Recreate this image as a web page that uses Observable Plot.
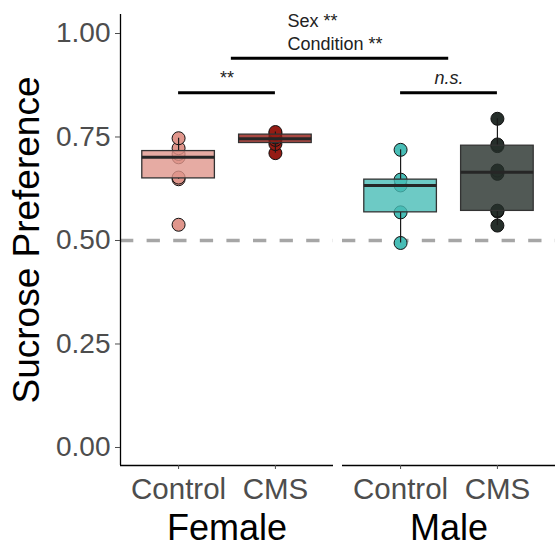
<!DOCTYPE html>
<html>
<head>
<meta charset="utf-8">
<script src="https://cdn.jsdelivr.net/npm/d3@7"></script>
<script src="https://cdn.jsdelivr.net/npm/@observablehq/plot@0.6"></script>
<style>
  body { margin: 0; background: #fff; }
  svg { font-family: "Liberation Sans", Arial, Helvetica, sans-serif; }
</style>
</head>
<body>
<div id="chart"></div>
<script>
// Sucrose preference per animal, by sex and condition
const sexes = ["Female", "Male"];
const conditions = ["Control", "CMS"];
const femaleControl = [0.538, 0.648, 0.652, 0.701, 0.709, 0.723, 0.747];
const femaleCMS = [0.711, 0.733, 0.743, 0.749, 0.758, 0.762];
const maleControl = [0.494, 0.568, 0.633, 0.647, 0.719];
const maleCMS = [0.536, 0.570, 0.572, 0.661, 0.669, 0.728, 0.732, 0.794];
const groupColors = ["#E0968C", "#951C14", "#48BDB6", "#262F2B"];
const yTicks = [0, 0.25, 0.5, 0.75, 1];
const chanceLevel = 0.5;

// significance annotations
const pairLabels = ["**", "n.s."];
const pairBracketY = 0.857;
const pairLabelY = 0.877;
const mainEffectLabels = ["Sex **", "Condition **"];
const mainEffectLabelY = [1.015, 0.959];
const mainEffectLabelX = 2.125;
const mainBracketY = 0.940;
const mainBracketX = [1.545, 3.79];

// layout of the two sex panels on one shared x scale
const panelWidth = 2.2;      // categories 1 and 2 with 0.6 expansion each side
const panelGap = 0.093;
const panelStep = panelWidth + panelGap;
const boxWidth = 0.75;
const yDomain = [-0.0435, 1.0459];

const valuesBySex = [[femaleControl, femaleCMS], [maleControl, maleCMS]];
const panels = sexes.map((sex, s) => ({
  sex,
  x1: 0.4 + s * panelStep,
  x2: 0.4 + panelWidth + s * panelStep,
  center: 1.5 + s * panelStep,
  pairLabel: pairLabels[s]
}));

const groups = sexes.flatMap((sex, s) => conditions.map((cond, c) => {
  const values = valuesBySex[s][c].slice().sort(d3.ascending);
  const q1 = d3.quantile(values, 0.25);
  const median = d3.quantile(values, 0.5);
  const q3 = d3.quantile(values, 0.75);
  const iqr = q3 - q1;
  const lo = d3.min(values.filter(v => v >= q1 - 1.5 * iqr));
  const hi = d3.max(values.filter(v => v <= q3 + 1.5 * iqr));
  return {sex, cond, x: 1 + c + s * panelStep, values, q1, median, q3, lo, hi,
          color: groupColors[s * conditions.length + c]};
}));

const points = groups.flatMap(g => g.values.map(v => ({x: g.x, y: v, color: g.color})));
const xTicks = groups.map(g => g.x);
const xTickLabel = new Map(groups.map(g => [g.x, g.cond]));

const chart = Plot.plot({
  width: 555,
  height: 549,
  marginTop: 14,
  marginBottom: 84,
  marginLeft: 120,
  marginRight: 0,
  x: {domain: [0.4, 0.4 + panelWidth + panelStep]},
  y: {domain: yDomain},
  color: {type: "identity"},
  marks: [
    // chance level
    Plot.ruleY(panels, {x1: "x1", x2: "x2", y: () => chanceLevel,
      stroke: "#A6A6A6", strokeWidth: 3.5, strokeDasharray: "13.3,13.3"}),
    // individual animals
    Plot.dot(points, {x: "x", y: "y", r: 6.5, fill: "color", stroke: "#111", strokeWidth: 1}),
    // whiskers
    Plot.ruleX(groups, {x: "x", y1: "lo", y2: "q1", stroke: "#1a1a1a", strokeWidth: 1.2}),
    Plot.ruleX(groups, {x: "x", y1: "q3", y2: "hi", stroke: "#1a1a1a", strokeWidth: 1.2}),
    // boxes
    Plot.rect(groups, {x1: d => d.x - boxWidth / 2, x2: d => d.x + boxWidth / 2, y1: "q1", y2: "q3",
      fill: "color", fillOpacity: 0.8, stroke: "#333", strokeWidth: 1.3}),
    Plot.ruleY(groups, {x1: d => d.x - boxWidth / 2, x2: d => d.x + boxWidth / 2, y: "median",
      stroke: "#262626", strokeWidth: 3}),
    // axis lines
    Plot.ruleX([panels[0]], {x: "x1", y1: () => yDomain[0], y2: () => yDomain[1], stroke: "#000", strokeWidth: 1.3}),
    Plot.ruleY(panels, {x1: "x1", x2: "x2", y: () => yDomain[0], stroke: "#000", strokeWidth: 1.3}),
    Plot.axisY({ticks: yTicks, tickFormat: d3.format(".2f"), fontSize: 28, tickSize: 5, tickPadding: 5,
      label: null, color: "#4D4D4D"}),
    Plot.axisX({ticks: xTicks, tickFormat: d => xTickLabel.get(d), fontSize: 29.5, tickSize: 4, tickPadding: 9,
      label: null, color: "#4D4D4D"}),
    // panel labels and y title
    Plot.text(panels, {x: "center", y: () => yDomain[0], text: "sex", dy: 49, lineAnchor: "top",
      fontSize: 36, fill: "#000"}),
    Plot.text(["Sucrose Preference"], {x: () => panels[0].x1, frameAnchor: "middle", text: d => d, rotate: -90,
      dx: -93, fontSize: 37, fill: "#000"}),
    // pairwise comparisons within each sex
    Plot.ruleY(panels, {x1: d => d.center - 0.5, x2: d => d.center + 0.5, y: () => pairBracketY,
      stroke: "#000", strokeWidth: 3}),
    Plot.text(panels.filter(d => d.pairLabel !== "n.s."), {x: "center", y: () => pairLabelY, text: "pairLabel",
      lineAnchor: "bottom", fontSize: 18, fill: "#222"}),
    Plot.text(panels.filter(d => d.pairLabel === "n.s."), {x: "center", y: () => pairLabelY, text: "pairLabel",
      lineAnchor: "bottom", fontSize: 18, fill: "#222", fontStyle: "italic"}),
    // main effects
    Plot.ruleY([mainBracketY], {x1: () => mainBracketX[0], x2: () => mainBracketX[1], y: d => d,
      stroke: "#000", strokeWidth: 3}),
    Plot.text(mainEffectLabels, {x: () => mainEffectLabelX, y: (d, i) => mainEffectLabelY[i], text: d => d,
      textAnchor: "start", lineAnchor: "bottom", fontSize: 18, fill: "#222"})
  ]
});

document.getElementById("chart").appendChild(chart);
</script>
</body>
</html>
